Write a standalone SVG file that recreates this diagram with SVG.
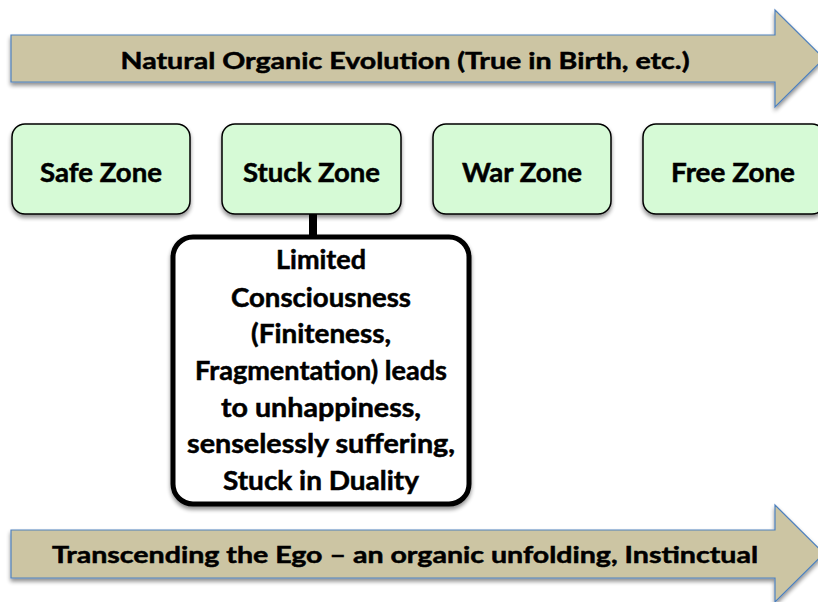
<svg xmlns="http://www.w3.org/2000/svg" width="818" height="602" viewBox="0 0 818 602">
<defs>
<style>
.t{font-family:Lato,"Open Sans","Liberation Sans",sans-serif;font-weight:bold;fill:#000;stroke:#000;stroke-width:0.5;text-anchor:middle}
.arrow{fill:#CCC5A3;stroke:#4F81BD;stroke-width:1.2}
.zone{fill:#D6FAD6;stroke:#000;stroke-width:1.5}
</style>
<filter id="sh" x="-10%" y="-10%" width="130%" height="140%">
<feGaussianBlur in="SourceAlpha" stdDeviation="2"/>
<feOffset dx="0" dy="3" result="b"/>
<feComponentTransfer><feFuncA type="linear" slope="0.45"/></feComponentTransfer>
<feMerge><feMergeNode/><feMergeNode in="SourceGraphic"/></feMerge>
</filter>
</defs>
<rect width="818" height="602" fill="#fff"/>
<g id="arrow-top">
<path class="arrow" filter="url(#sh)" d="M11,35 H775 V10 L824,58.5 L775,107 V82 H11 Z"/>
<text class="t" x="405" y="69" font-size="23" textLength="569" lengthAdjust="spacingAndGlyphs">Natural Organic Evolution (True in Birth, etc.)</text>
</g>
<g id="connectors">
<line x1="313" y1="214" x2="313" y2="238" stroke="#000" stroke-width="8"/>
</g>
<g id="safe-zone">
<rect class="zone" filter="url(#sh)" x="12" y="124" width="178" height="90" rx="13"/>
<text class="t" x="101" y="182" font-size="27" textLength="122" lengthAdjust="spacingAndGlyphs">Safe Zone</text>
</g>
<g id="stuck-zone">
<rect class="zone" filter="url(#sh)" x="222" y="124" width="179" height="90" rx="13"/>
<text class="t" x="311.5" y="182" font-size="27" textLength="137" lengthAdjust="spacingAndGlyphs">Stuck Zone</text>
</g>
<g id="war-zone">
<rect class="zone" filter="url(#sh)" x="433" y="124" width="178" height="90" rx="13"/>
<text class="t" x="522" y="182" font-size="27" textLength="120" lengthAdjust="spacingAndGlyphs">War Zone</text>
</g>
<g id="free-zone">
<rect class="zone" filter="url(#sh)" x="643" y="124" width="182" height="90" rx="13"/>
<text class="t" x="733" y="182" font-size="27" textLength="124" lengthAdjust="spacingAndGlyphs">Free Zone</text>
</g>
<g id="limited-box">
<rect filter="url(#sh)" x="173" y="237" width="296" height="267" rx="20" fill="#fff" stroke="#000" stroke-width="5"/>
<text class="t" x="321" y="269" font-size="26" textLength="90" lengthAdjust="spacingAndGlyphs">Limited</text>
<text class="t" x="321" y="307" font-size="26" textLength="180" lengthAdjust="spacingAndGlyphs">Consciousness</text>
<text class="t" x="321" y="343" font-size="26" textLength="140" lengthAdjust="spacingAndGlyphs">(Finiteness,</text>
<text class="t" x="321" y="380" font-size="26" textLength="252" lengthAdjust="spacingAndGlyphs">Fragmentation) leads</text>
<text class="t" x="321" y="417" font-size="26" textLength="200" lengthAdjust="spacingAndGlyphs">to unhappiness,</text>
<text class="t" x="321" y="453" font-size="26" textLength="268" lengthAdjust="spacingAndGlyphs">senselessly suffering,</text>
<text class="t" x="321" y="490" font-size="26" textLength="196" lengthAdjust="spacingAndGlyphs">Stuck in Duality</text>
</g>
<g id="arrow-bottom">
<path class="arrow" filter="url(#sh)" d="M11,530 H775 V505 L824,553.5 L775,602 V578 H11 Z"/>
<text class="t" x="405" y="563" font-size="23" textLength="706" lengthAdjust="spacingAndGlyphs">Transcending the Ego – an organic unfolding, Instinctual</text>
</g>
</svg>
